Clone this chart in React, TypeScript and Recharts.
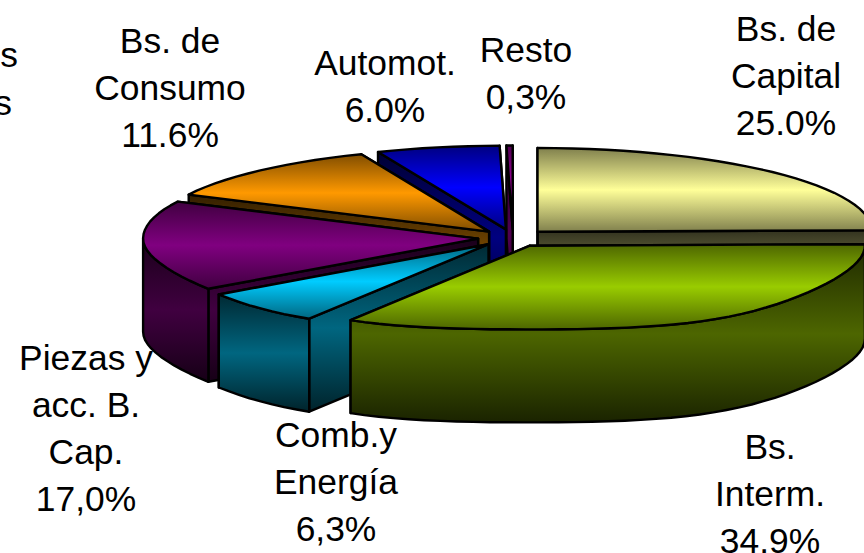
import React from 'react';
import { PieChart, Pie } from 'recharts';

// Painted back to front, counter-clockwise from the end of "Capital".
const categories = ['Bs. de Capital', 'Resto', 'Automot.', 'Bs. de Consumo', 'Piezas y acc. B. Cap.', 'Comb.y Energía', 'Bs. Interm.'];
const values = [25.0, 0.3, 6.0, 11.6, 17.0, 6.3, 34.9];
const colours = ['#FFFF99', '#A000A0', '#0000FF', '#FF9900', '#800080', '#00CCFF', '#99CC00'];
const labelLines = [
  ['Bs. de', 'Capital', '25.0%'],
  ['Resto', '0,3%'],
  ['Automot.', '6.0%'],
  ['Bs. de', 'Consumo', '11.6%'],
  ['Piezas y', 'acc. B.', 'Cap.', '17,0%'],
  ['Comb.y', 'Energía', '6,3%'],
  ['Bs.', 'Interm.', '34.9%'],
];
const labelAnchors = [
  [786, 41], [526, 62], [385, 75], [170, 53], [86, 370], [336, 447], [770, 459],
];
const croppedLabel = [
  { text: 's', x: 18, y: 67 },
  { text: 's', x: 12, y: 115 },
];

const total = values.reduce((a, b) => a + b, 0);
const START = 90 - (360 * values[0]) / total;
const TILT = 0.25;
const EXPLODE = 35;
const DEPTH = 93;
const LINE = 47;
const RAD = Math.PI / 180;

const data = categories.map((name, i) => ({ name, value: values[i], i }));

function scale(hex: string, f: number) {
  const n = parseInt(hex.slice(1), 16);
  const c = [(n >> 16) & 255, (n >> 8) & 255, n & 255].map((v) => Math.round(v * f));
  return `rgb(${c[0]},${c[1]},${c[2]})`;
}

function Slice(props: any) {
  const { cx, cy, outerRadius: R, startAngle, endAngle, index } = props;
  const mid = ((startAngle + endAngle) / 2) * RAD;
  const ox = cx + EXPLODE * Math.cos(mid);
  const oy = cy - EXPLODE * TILT * Math.sin(mid);
  const pt = (deg: number, dz = 0): [number, number] => {
    const s = Math.sin(deg * RAD);
    const c2 = Math.sin(2 * deg * RAD) ** 2;
    // The near half of the disc bulges a little, as the perspective of the 3-D pie does.
    const fy = s < 0 ? 1 + 0.075 * c2 : 1;
    const fx = s < 0 ? 1 - 0.03 * c2 : 1;
    return [ox + R * fx * Math.cos(deg * RAD), oy - R * TILT * fy * s + dz];
  };
  const arc = (a: number, b: number, dz = 0) => {
    const out: [number, number][] = [];
    const n = Math.max(1, Math.ceil(Math.abs(b - a) / 3));
    for (let k = 0; k <= n; k++) out.push(pt(a + ((b - a) * k) / n, dz));
    return out;
  };
  const d = (p: [number, number][]) =>
    'M' + p.map((q) => `${q[0].toFixed(1)},${q[1].toFixed(1)}`).join('L') + 'Z';
  const c = colours[index];
  const apex: [number, number] = [ox, oy];
  const apexLow: [number, number] = [ox, oy + DEPTH];
  const wall = (deg: number) => d([apex, pt(deg), pt(deg, DEPTH), apexLow]);
  const lo = Math.max(startAngle, 180);
  const hi = Math.min(endAngle, 360);
  const stroke = { stroke: '#000', strokeWidth: 2.4, strokeLinejoin: 'round' as const };
  return (
    <g>
      <defs>
        <linearGradient id={`top${index}`} x1="0" y1="0" x2="0" y2="1">
          <stop offset="0" stopColor={scale(c, 0.5)} />
          <stop offset="0.5" stopColor={c} />
          <stop offset="1" stopColor={scale(c, 0.5)} />
        </linearGradient>
        <linearGradient id={`side${index}`} x1="0" y1="0" x2="0" y2="1">
          <stop offset="0" stopColor={scale(c, 0.2)} />
          <stop offset="0.5" stopColor={scale(c, 0.5)} />
          <stop offset="1" stopColor={scale(c, 0.17)} />
        </linearGradient>
      </defs>
      <path d={wall(startAngle)} fill={`url(#side${index})`} {...stroke} />
      <path d={wall(endAngle)} fill={`url(#side${index})`} {...stroke} />
      {hi > lo && (
        <path
          d={d([...arc(lo, hi), ...arc(hi, lo, DEPTH)])}
          fill={`url(#side${index})`}
          {...stroke}
        />
      )}
      <path d={d([apex, ...arc(startAngle, endAngle)])} fill={`url(#top${index})`} {...stroke} />
    </g>
  );
}

const textStyle = { fontFamily: '"Liberation Sans", Arial, sans-serif', fontSize: 35.4, fill: '#000' };

function renderLabel(props: any) {
  const i = props.index;
  const [x, y] = labelAnchors[i];
  return (
    <text key={i} x={x} y={y} textAnchor="middle" style={textStyle}>
      {labelLines[i].map((line, k) => (
        <tspan key={k} x={x} y={y + k * LINE}>{line}</tspan>
      ))}
    </text>
  );
}

export default function App() {
  return (
    <div style={{ position: 'absolute', left: 0, top: 0, width: 864, height: 553, overflow: 'hidden', background: '#fff' }}>
      <PieChart width={864} height={553} margin={{ top: 0, right: 0, bottom: 0, left: 0 }}>
        <Pie
          data={data}
          dataKey="value"
          nameKey="name"
          cx={513}
          cy={238}
          innerRadius={0}
          outerRadius={335}
          startAngle={START}
          endAngle={START + 360}
          paddingAngle={0}
          shape={Slice}
          label={renderLabel}
          labelLine={false}
          isAnimationActive={false}
        />
        {croppedLabel.map((t, i) => (
          <text key={i} x={t.x} y={t.y} textAnchor="end" style={textStyle}>{t.text}</text>
        ))}
      </PieChart>
    </div>
  );
}
